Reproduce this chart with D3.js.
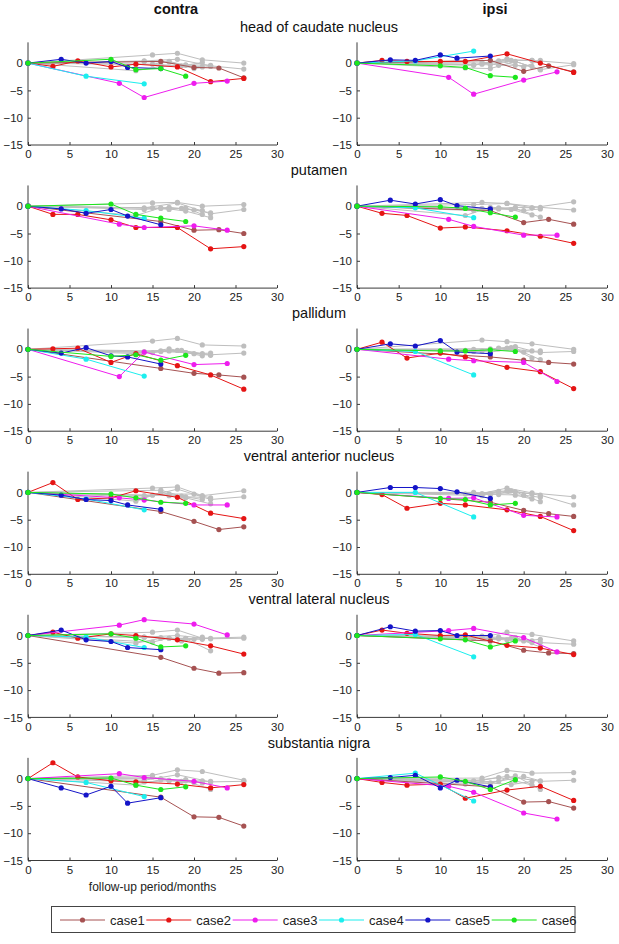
<!DOCTYPE html>
<html><head><meta charset="utf-8">
<script src="https://cdn.jsdelivr.net/npm/d3@7"></script>
<style>
html,body{margin:0;padding:0;background:#fff;}
svg{display:block;font-family:"Liberation Sans",Arial,Helvetica,sans-serif;}
</style></head>
<body><svg id="chart" width="619" height="944"></svg>
<script>
// ---------- data ----------
const sides = ["contra", "ipsi"];
const regions = ["head of caudate nucleus", "putamen", "pallidum",
  "ventral anterior nucleus", "ventral lateral nucleus", "substantia nigra"];
const caseNames = ["case1", "case2", "case3", "case4", "case5", "case6"];
const caseColors = ["#a65252", "#e51414", "#ee1cee", "#1ceeee", "#1414c8", "#1ce61c"];
const grayColor = "#bebebe";
const xTicks = [0, 5, 10, 15, 20, 25, 30];
const yTicks = [-15, -10, -5, 0];
const xLabel = "follow-up period/months";

// follow-up months for each case
const caseMonths = [
  [0, 16, 20, 23, 26],
  [0, 3, 6, 10, 13, 18, 22, 26],
  [0, 11, 14, 20, 24],
  [0, 7, 14],
  [0, 4, 7, 10, 12, 16],
  [0, 10, 13, 16, 19]
];
// follow-up months for the other (grey) subjects
const grayMonths = [
  [0, 15, 18, 21, 26],
  [0, 14, 18, 22, 26],
  [0, 13, 16, 19, 22],
  [0, 14, 17, 20, 22],
  [0, 16, 18.5, 21],
  [0, 15, 17, 19, 21]
];

// values per panel: case1..case6
const caudateContra = [[0,0.3,-0.8,-0.9,-2.7],[0,-0.6,0.4,-0.7,-0.2,-0.7,-3.4,-2.8],[0,-3.7,-6.3,-3.7,-3.3],[0,-2.4,-3.8],[0,0.7,0.0,0.3,-0.8,-1.0],[0,0.7,-1.2,-1.0,-2.4]];
const caudateIpsi = [[0,0.5,-1.5,-0.5,-1.6],[0,0.5,0.3,0.3,0.3,1.7,0.0,-1.7],[0,-2.6,-5.7,-3.1,-1.6],[0,0.4,2.2],[0,0.6,0.5,1.5,0.9,1.3],[0,-0.5,-0.8,-2.3,-2.6]];
const putamenContra = [[0,-2.8,-4.4,-4.3,-5.0],[0,-1.5,-1.5,-2.5,-3.9,-3.9,-7.8,-7.4],[0,-3.3,-3.9,-3.6,-4.4],[0,-0.8,-2.2],[0,-0.5,-1.3,-0.6,-1.8,-3.4],[0,0.4,-1.5,-2.2,-2.8]];
const putamenIpsi = [[0,-0.8,-3.0,-2.4,-3.3],[0,-1.3,-1.7,-4.0,-3.8,-4.5,-5.5,-6.8],[0,-2.4,-3.7,-5.3,-5.3],[0,-0.3,-2.1],[0,1.1,0.4,1.2,0.1,-0.5],[0,-0.1,-0.4,-1.2,-2.0]];
const pallidumContra = [[0,-3.5,-4.4,-4.7,-5.1],[0,0.1,0.2,-2.4,-0.8,-3.0,-4.7,-7.3],[0,-5.0,-0.5,-2.8,-2.6],[0,-1.8,-4.9],[0,-0.7,0.3,-1.2,-1.4,-2.7],[0,-1.3,-1.0,-2.0,-1.1]];
const pallidumIpsi = [[0,-1.4,-2.0,-2.4,-2.7],[0,1.3,-1.6,-0.7,-1.4,-3.3,-4.1,-7.2],[0,-1.8,-2.1,-2.4,-5.9],[0,-0.4,-4.7],[0,1.0,0.6,1.6,-0.5,-0.8],[0,-0.3,-0.3,-0.1,-0.4]];
const vaContra = [[0,-3.5,-5.3,-6.8,-6.3],[0,1.8,-1.3,-1.0,0.3,-0.9,-3.8,-4.8],[0,-1.0,-1.4,-2.3,-2.3],[0,-1.2,-3.2],[0,-0.5,-1.3,-1.5,-2.3,-3.1],[0,-0.3,-1.0,-1.8,-2.0]];
const vaIpsi = [[0,-1.8,-3.3,-3.9,-4.4],[0,-0.4,-2.9,-2.0,-2.3,-3.2,-4.4,-7.0],[0,-1.1,-1.0,-4.2,-4.5],[0,0.0,-4.5],[0,0.9,0.9,0.7,0.1,-1.1],[0,-1.1,-1.3,-2.3,-2.0]];
const vlContra = [[0,-4.0,-6.0,-6.9,-6.8],[0,0.6,-0.5,0.3,0.0,-0.8,-1.9,-3.4],[0,1.9,2.9,2.1,0.1],[0,-0.3,-2.2],[0,1.0,-0.8,-1.1,-2.2,-2.6],[0,0.3,-0.5,-2.1,-1.9]];
const vlIpsi = [[0,-1.0,-2.7,-3.2,-3.3],[0,1.0,0.4,0.0,0.1,-1.8,-2.3,-3.5],[0,0.9,1.3,-0.4,-3.0],[0,0.2,-3.9],[0,1.6,0.8,0.9,0.0,0.0],[0,-0.6,-0.8,-2.1,-1.0]];
const snContra = [[0,-3.4,-7.0,-7.1,-8.7],[0,2.9,0.3,-0.4,-0.6,-1.0,-1.7,-1.1],[0,0.9,0.2,-0.5,-1.7],[0,-0.7,-3.3],[0,-1.7,-3.0,-1.4,-4.5,-3.5],[0,0.1,-1.2,-2.0,-1.5]];
const snIpsi = [[0,-1.5,-4.3,-4.2,-5.4],[0,-0.7,-1.2,-1.0,-3.6,-2.1,-1.4,-4.0],[0,-1.4,-2.5,-6.3,-7.4],[0,1.0,-4.1],[0,0.2,0.6,-1.7,-0.3,-1.5],[0,0.3,-0.5,-2.0,-0.2]];

// grey subjects per panel
const caudateContraGray = [[0,1.5,1.8,0.6,0.0],[0,0.4,0.7,-0.5,-1.1],[0,-1.4,-0.6,-0.3,-0.4],[0,0.3,0.2,-1.0,-0.6],[0,-0.3,-0.5,0.1],[0,-0.2,0.3,-0.4,-0.7]];
const caudateIpsiGray = [[0,-0.2,0.6,0.5,-0.1],[0,-0.4,0.8,-1.2,-0.3],[0,-0.9,-1.0,0.3,-1.2],[0,-0.3,0.4,-0.7,0.5],[0,-0.3,0.5,0.5],[0,0.2,-0.4,-0.4,-0.6]];
const putamenContraGray = [[0,0.6,0.7,0.0,0.3],[0,-0.3,0.6,-1.4,-0.6],[0,-1.7,-0.3,-0.9,-2.1],[0,-0.6,-0.2,-0.7,-1.2],[0,-0.4,-0.4,-0.8],[0,-0.3,-0.6,-0.3,-1.5]];
const putamenIpsiGray = [[0,0.7,0.5,-0.3,0.8],[0,0.3,0.5,-0.2,-0.7],[0,-1.7,-0.2,-0.4,-2.0],[0,-0.8,-0.3,-0.8,-0.5],[0,-0.5,-0.6,-1.6],[0,-0.4,-0.5,-0.2,-0.3]];
const pallidumContraGray = [[0,1.5,2.0,0.8,0.6],[0,-0.4,-0.2,-1.0,-0.7],[0,-0.8,-0.4,-0.6,-1.1],[0,-0.6,0.1,-0.8,-0.7],[0,-0.3,-0.2,-0.8],[0,-0.6,-0.3,-0.6,-1.2]];
const pallidumIpsiGray = [[0,1.7,1.4,1.0,0.0],[0,-0.4,0.2,-0.6,-0.4],[0,-0.2,-0.5,0.1,-1.9],[0,0.0,0.1,-0.5,-0.3],[0,0.1,0.3,-1.6],[0,-0.3,0.2,0.5,-0.3]];
const vaContraGray = [[0,0.8,1.0,-0.6,0.3],[0,-0.9,0.6,-1.3,-0.8],[0,-1.6,0.0,-1.0,-2.1],[0,-0.6,-0.3,-0.3,-1.0],[0,0.4,-0.7,-1.3],[0,-0.5,-0.6,-0.8,-0.9]];
const vaIpsiGray = [[0,-0.2,0.8,-0.1,-0.8],[0,-0.2,0.3,-0.5,-2.3],[0,-0.3,-0.4,0.1,-1.7],[0,0.0,-0.4,-0.5,-0.9],[0,-0.2,0.3,-0.3],[0,-0.6,0.2,-0.5,-1.2]];
const vlContraGray = [[0,0.6,1.0,-0.5,-0.3],[0,-0.3,0.0,-0.6,-0.5],[0,-1.4,-0.5,-0.6,-2.8],[0,-0.3,-0.5,-0.7,-0.5],[0,-0.4,-1.0,-0.3],[0,-1.2,-0.5,-0.5,-0.7]];
const vlIpsiGray = [[0,-0.3,0.6,0.2,-1.0],[0,-0.5,-0.8,-1.3,-1.6],[0,-0.5,-0.6,-0.4,-2.1],[0,-0.3,-0.3,-1.0,-0.7],[0,-0.7,-0.5,-1.0],[0,-0.1,-0.6,-0.4,-1.3]];
const snContraGray = [[0,0.6,1.6,1.3,-0.3],[0,-0.3,0.7,-0.6,-0.5],[0,-1.2,-0.2,-0.4,-2.0],[0,-0.6,-0.4,-0.7,-0.5],[0,0.0,-0.5,-0.4],[0,0.3,-0.3,-0.2,-0.8]];
const snIpsiGray = [[0,0.1,1.5,1.0,1.1],[0,-0.4,0.4,-0.5,-0.3],[0,-1.0,-0.9,0.5,-2.0],[0,-0.6,-0.5,0.4,-0.4],[0,-0.8,-1.1,-0.5],[0,-0.3,0.2,-0.4,-1.2]];

const panelCases = [
  [caudateContra, caudateIpsi], [putamenContra, putamenIpsi], [pallidumContra, pallidumIpsi],
  [vaContra, vaIpsi], [vlContra, vlIpsi], [snContra, snIpsi]
];
const panelGray = [
  [caudateContraGray, caudateIpsiGray], [putamenContraGray, putamenIpsiGray], [pallidumContraGray, pallidumIpsiGray],
  [vaContraGray, vaIpsiGray], [vlContraGray, vlIpsiGray], [snContraGray, snIpsiGray]
];

// ---------- layout ----------
const svg = d3.select("#chart");
const colX = [[28, 277], [357, 607]];
const rowBottom0 = 145, rowStep = 143.1, unitPx = 5.46;
const yTop = 3.8;
const axisColor = "#3a3a3a", textColor = "#222";

sides.forEach((s, i) => {
  svg.append("text").attr("x", i === 0 ? 176 : 495).attr("y", 14)
    .attr("text-anchor", "middle").attr("font-weight", "bold").attr("font-size", 14.5)
    .attr("fill", "#111").text(s);
});

const line = d3.line();

regions.forEach((reg, r) => {
  const bottom = rowBottom0 + r * rowStep;
  const top = bottom - (yTop + 15) * unitPx;
  svg.append("text").attr("x", 319).attr("y", bottom - 113)
    .attr("text-anchor", "middle").attr("font-size", 14.5).attr("fill", "#111").text(reg);

  sides.forEach((s, c) => {
    const x = d3.scaleLinear().domain([0, 30]).range(colX[c]);
    const y = d3.scaleLinear().domain([-15, yTop]).range([bottom, top]);
    const g = svg.append("g");

    const xa = g.append("g").attr("transform", `translate(0,${bottom})`)
      .call(d3.axisBottom(x).tickValues(xTicks).tickSize(-3).tickPadding(5).tickFormat(d3.format("d")));
    const ya = g.append("g").attr("transform", `translate(${colX[c][0]},0)`)
      .call(d3.axisLeft(y).tickValues(yTicks).tickSize(-3).tickPadding(5).tickFormat(d3.format("d")));
    [xa, ya].forEach(a => {
      a.select(".domain").attr("stroke", axisColor).attr("d", null);
      a.selectAll(".tick line").attr("stroke", axisColor);
      a.selectAll(".tick text").attr("fill", textColor).attr("font-size", 11.5)
        .attr("font-family", "'Liberation Sans',Arial,sans-serif");
    });
    xa.select(".domain").remove();
    ya.select(".domain").remove();
    g.append("line").attr("x1", x(0)).attr("x2", x(30)).attr("y1", bottom).attr("y2", bottom)
      .attr("stroke", axisColor).attr("stroke-width", 1);
    g.append("line").attr("x1", colX[c][0]).attr("x2", colX[c][0]).attr("y1", top).attr("y2", bottom)
      .attr("stroke", axisColor).attr("stroke-width", 1);

    const drawSeries = (months, vals, color) => {
      const pts = months.map((m, k) => [x(m), y(vals[k])]);
      g.append("path").attr("d", line(pts)).attr("fill", "none")
        .attr("stroke", color).attr("stroke-width", 1);
      g.selectAll(null).data(pts).enter().append("circle")
        .attr("cx", d => d[0]).attr("cy", d => d[1]).attr("r", 2.6).attr("fill", color);
    };
    panelGray[r][c].forEach((vals, k) => drawSeries(grayMonths[k], vals, grayColor));
    panelCases[r][c].forEach((vals, k) => drawSeries(caseMonths[k], vals, caseColors[k]));
  });
});

// x label under bottom-left panel
const lastBottom = rowBottom0 + 5 * rowStep;
svg.append("text").attr("x", (colX[0][0] + colX[0][1]) / 2).attr("y", lastBottom + 30)
  .attr("text-anchor", "middle").attr("font-size", 12).attr("fill", textColor).text(xLabel);

// legend
const leg = svg.append("g");
leg.append("rect").attr("x", 51.5).attr("y", 906.5).attr("width", 523.5).attr("height", 26)
  .attr("fill", "#fff").attr("stroke", "#444").attr("stroke-width", 1);
const legX = d3.scalePoint().domain(caseNames).range([60, 491.7]);
caseNames.forEach((n, k) => {
  const lx = legX(n);
  leg.append("line").attr("x1", lx).attr("x2", lx + 45).attr("y1", 920).attr("y2", 920)
    .attr("stroke", caseColors[k]).attr("stroke-width", 1);
  leg.append("circle").attr("cx", lx + 22.5).attr("cy", 920).attr("r", 2.6).attr("fill", caseColors[k]);
  leg.append("text").attr("x", lx + 50).attr("y", 924.5).attr("font-size", 13)
    .attr("fill", textColor).text(n);
});
</script></body></html>
